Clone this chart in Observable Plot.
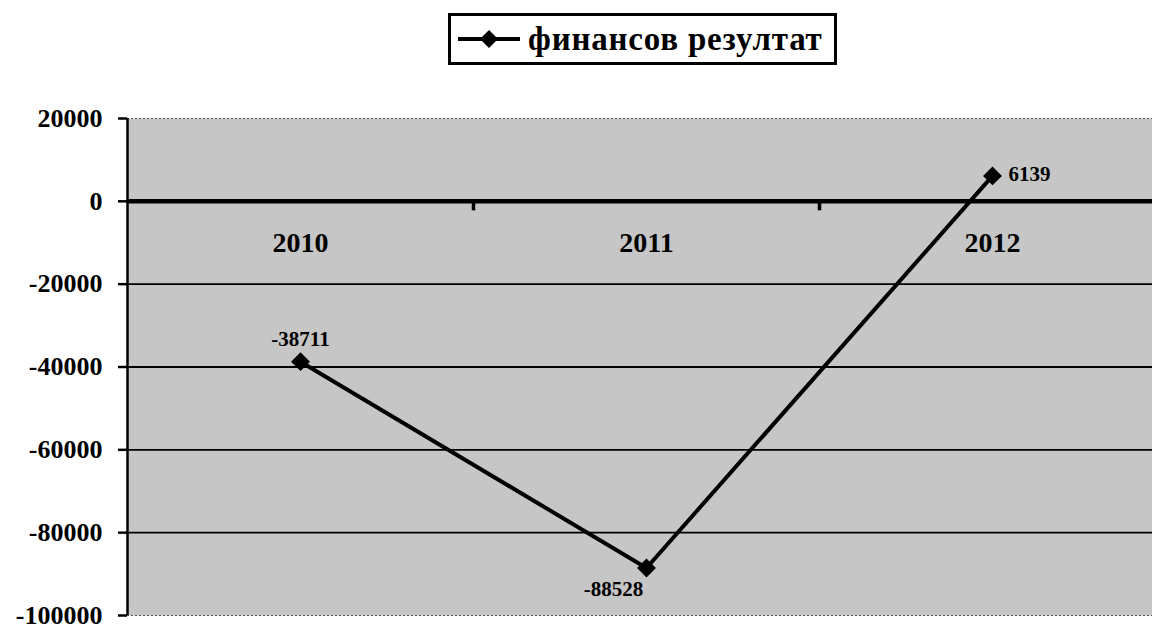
<!DOCTYPE html>
<html>
<head>
<meta charset="utf-8">
<script src="https://cdn.jsdelivr.net/npm/d3@7"></script>
<script src="https://cdn.jsdelivr.net/npm/@observablehq/plot@0.6"></script>
<style>
  html, body { margin: 0; padding: 0; background: #fff; }
  body { width: 1152px; height: 630px; overflow: hidden; font-family: "Liberation Serif", "DejaVu Serif", serif; }
  #legend { position: relative; height: 95px; }
  #legend .box { position: absolute; left: 448px; top: 13px; width: 383px; height: 46px; border: 3px solid #000; display: flex; align-items: center; box-sizing: content-box; }
  #legend .txt { font-size: 33px; font-weight: bold; color: #000; margin-left: 6px; line-height: 1; letter-spacing: 0.8px; white-space: nowrap; }
  #chart svg { overflow: hidden; display: block; }
</style>
</head>
<body>
<div id="legend"><div class="box"><svg width="66" height="20" style="margin-left:5px"><line x1="2" y1="10" x2="64" y2="10" stroke="#000" stroke-width="4"/><path d="M33,1 L42,10 L33,19 L24,10 Z" fill="#000"/></svg><span class="txt">финансов резултат</span></div></div>
<div id="chart"></div>
<script>
const years = ["2010", "2011", "2012"];
const values = [-38711, -88528, 6139];
const yTicks = [20000, 0, -20000, -40000, -60000, -80000, -100000];
const gridLines = [-20000, -40000, -60000, -80000];
const seriesName = "финансов резултат";

const rows = years.map((y, i) => ({year: y, pos: i + 0.5, value: values[i]}));
const boundaries = d3.range(1, years.length);

const tickSymbol = {draw(ctx) { ctx.moveTo(0, 0); ctx.lineTo(0, 9); }};

const chart = Plot.plot({
  width: 1152,
  height: 535,
  marginTop: 23,
  marginBottom: 15,
  marginLeft: 127,
  marginRight: 0,
  style: {fontFamily: "'Liberation Serif', serif", background: "transparent", overflow: "hidden"},
  x: {domain: [0, years.length], range: [127, 1165], axis: null},
  y: {domain: [-100000, 20000], ticks: yTicks, label: null},
  marks: [
    Plot.frame({fill: "#c6c6c6", stroke: null}),
    Plot.ruleY([20000, -100000], {stroke: "#555", strokeWidth: 1.2, strokeDasharray: "2,2"}),
    Plot.ruleY(gridLines, {stroke: "#000", strokeWidth: 1.8}),
    Plot.ruleY([0], {stroke: "#000", strokeWidth: 4.5}),
    Plot.dot(boundaries, {x: d => d, y: 0, symbol: tickSymbol, stroke: "#000", strokeWidth: 3.5, fill: null}),
    Plot.axisY({ticks: yTicks, label: null, tickSize: 9, tickPadding: 16, tickFormat: d => String(d), fontSize: 26, fontWeight: "bold", stroke: "#000", strokeWidth: 2.5, color: "#000"}),
    Plot.ruleX([0], {y1: -100000, y2: 20000, stroke: "#000", strokeWidth: 2.5}),
    Plot.text(rows, {x: "pos", y: 0, text: "year", dy: 42, fontSize: 28, fontWeight: "bold", fill: "#000"}),
    Plot.line(rows, {x: "pos", y: "value", stroke: "#000", strokeWidth: 4}),
    Plot.dot(rows, {x: "pos", y: "value", symbol: "diamond2", r: 8.5, fill: "#000", stroke: null}),
    Plot.text(rows.filter(d => d.year === "2010"), {x: "pos", y: "value", text: d => String(d.value), dy: -22, fontSize: 21, fontWeight: "bold", fill: "#000"}),
    Plot.text(rows.filter(d => d.year === "2011"), {x: "pos", y: "value", text: d => String(d.value), dx: -33, dy: 21, fontSize: 21, fontWeight: "bold", fill: "#000"}),
    Plot.text(rows.filter(d => d.year === "2012"), {x: "pos", y: "value", text: d => String(d.value), dx: 16, dy: -2, textAnchor: "start", fontSize: 21, fontWeight: "bold", fill: "#000"})
  ]
});
document.getElementById("chart").appendChild(chart);
</script>
</body>
</html>
